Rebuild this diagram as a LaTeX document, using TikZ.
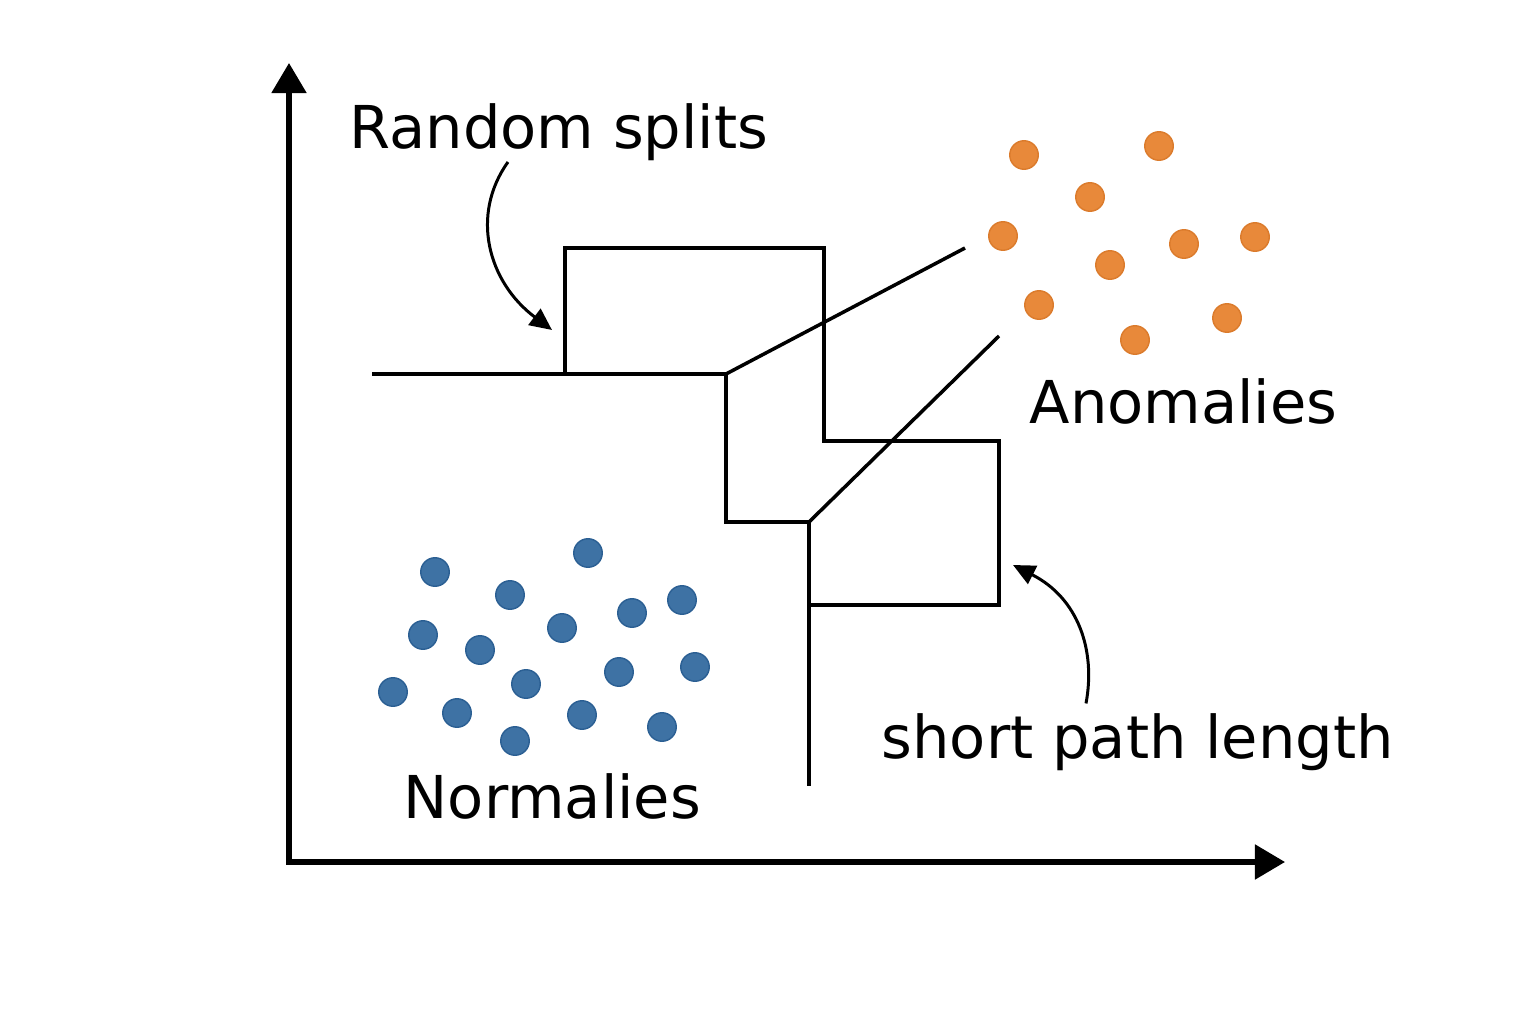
\documentclass[tikz,border=0pt]{standalone}
\usepackage{fontspec}
\setmainfont{DejaVu Sans}
\usetikzlibrary{arrows.meta}
\definecolor{normblue}{HTML}{3E72A4}
\definecolor{normedge}{HTML}{2B5F93}
\definecolor{anoorange}{HTML}{E8893A}
\definecolor{anoedge}{HTML}{DB7B2C}

\begin{document}
\begin{tikzpicture}[x=0.01cm,y=-0.01cm,
  axis/.style={line width=1.45pt,{Triangle[length=0.3cm,width=0.34cm]}-{Triangle[length=0.3cm,width=0.34cm]}},
  split/.style={line width=1pt},
  pointer/.style={line width=0.85pt,-{Triangle[length=0.22cm,width=0.2cm]}},
  label/.style={anchor=base west,inner sep=0pt,font=\fontsize{16.8}{20}\selectfont},
  normdot/.style={circle,fill=normblue,draw=normedge,line width=0.4pt,minimum size=0.285cm,inner sep=0pt},
  anodot/.style={circle,fill=anoorange,draw=anoedge,line width=0.4pt,minimum size=0.285cm,inner sep=0pt}]
  \useasboundingbox (0,0) rectangle (1536,1024);

  % Axes
  \coordinate (origin) at (289,862);
  \coordinate (ytop) at (289,63);
  \coordinate (xend) at (1285,862);
  \draw[axis] (ytop) -- (origin) -- (xend);

  % Random splits
  \coordinate (s1) at (372,374);
  \coordinate (s2) at (726,374);
  \coordinate (s3) at (809,522);
  \draw[split] (s1) -- (s2) |- (s3) -- (809,786);
  \draw[split] (565,374) -- (565,248) -- (824,248) -- (824,441) -- (999,441) -- (999,605) -- (809,605);
  \draw[split] (s2) -- (965,248);
  \draw[split] (s3) -- (999,336);

  % Normal points
  \foreach \x/\y [count=\i] in {435/572, 510/595, 588/553, 423/635, 480/650, 562/628,
    632/613, 682/600, 393/692, 526/684, 619/672, 695/667, 457/713, 515/741, 582/715, 662/727}
    \node[normdot] (n\i) at (\x,\y) {};

  % Anomalous points
  \foreach \x/\y [count=\i] in {1024/155, 1159/146, 1090/197, 1003/236, 1110/265,
    1184/244, 1255/237, 1039/305, 1135/340, 1227/318}
    \node[anodot] (a\i) at (\x,\y) {};

  % Labels
  \node[label] (splits) at (349,148) {Random splits};
  \node[label] (anom) at (1029,423) {Anomalies};
  \node[label] (short) at (881,758) {short path length};
  \node[label] (norm) at (403,818) {Normalies};

  % Pointers
  \coordinate (tipsplit) at (552,330);
  \coordinate (tipshort) at (1013,565);
  \draw[pointer] (splits.south west) ++(159,1) .. controls (470,215) and (488,282) .. (tipsplit);
  \draw[pointer] (short.north west) ++(205,-9) .. controls (1096,650) and (1078,598) .. (tipshort);
\end{tikzpicture}
\end{document}
